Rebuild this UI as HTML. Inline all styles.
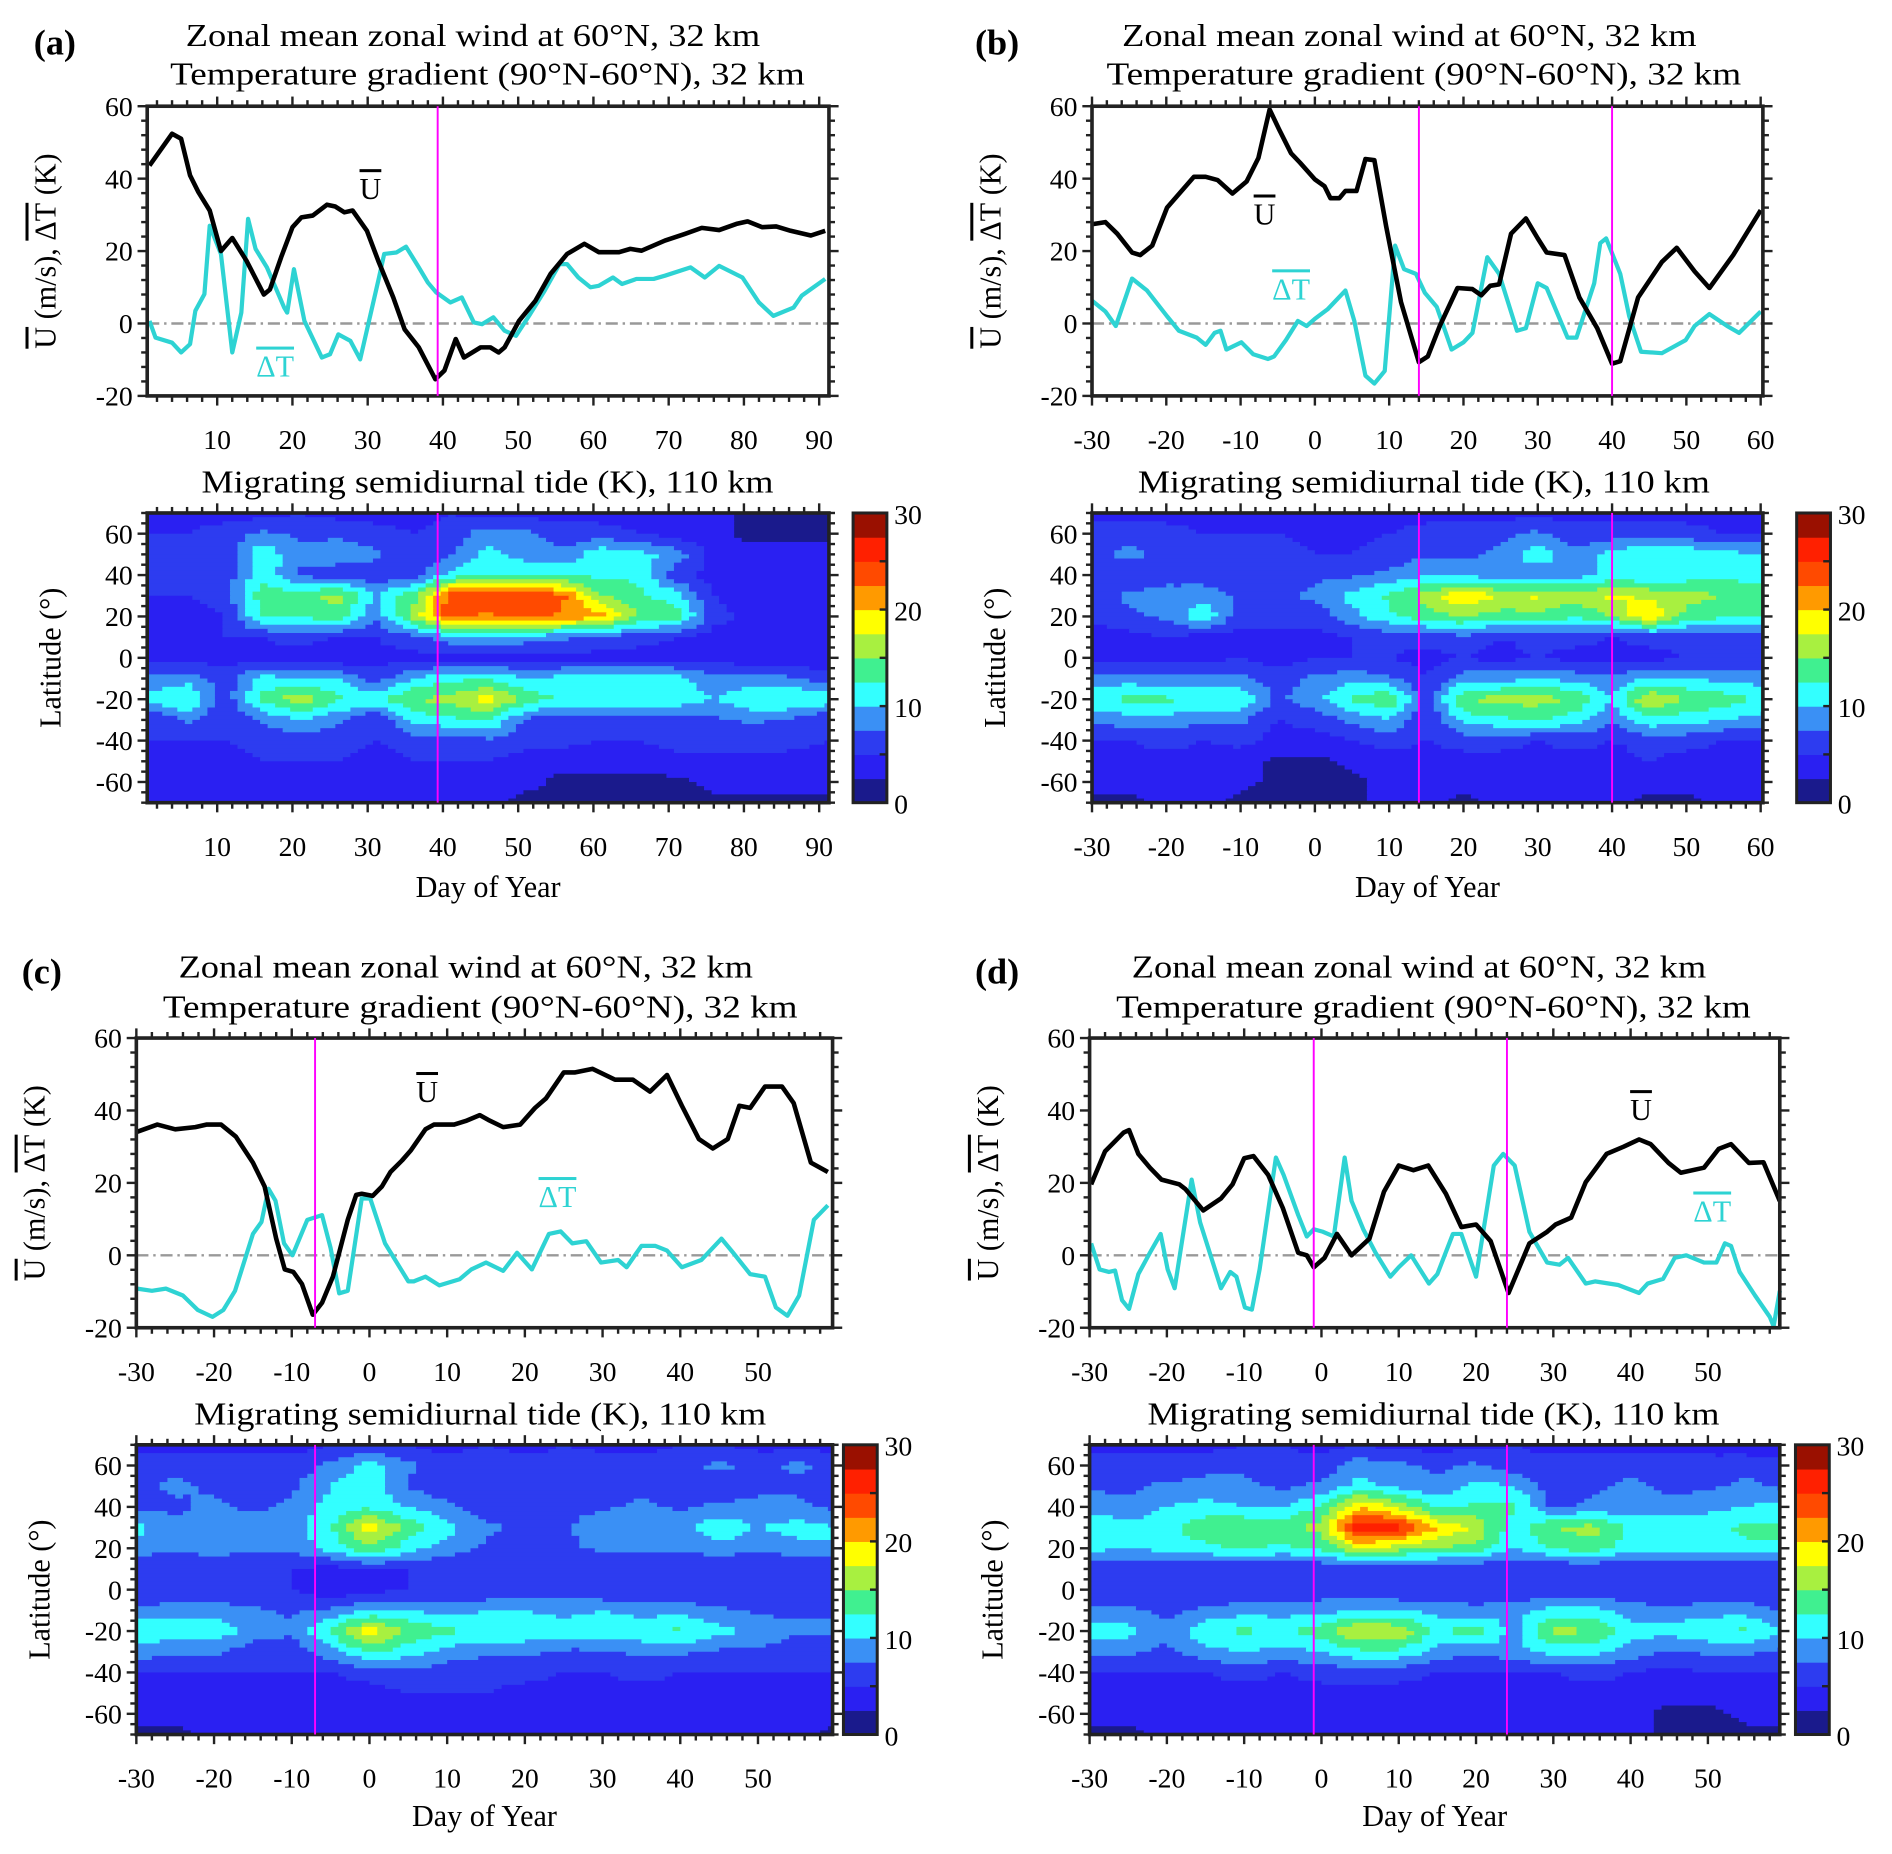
<!DOCTYPE html>
<html><head><meta charset="utf-8">
<style>
html,body{margin:0;padding:0;background:#fff;}
svg{display:block;font-family:"Liberation Serif",serif;}
.ol{text-decoration:overline;}
</style></head>
<body>
<svg id="fig" xmlns="http://www.w3.org/2000/svg" width="1892" height="1854" viewBox="0 0 1568 1536" preserveAspectRatio="none">
<rect x="0" y="0" width="1568" height="1536" fill="#fff"/>
</svg>
<script>
// ---------- Line series data ----------
const aUDays=[1,4,5.2,6.4,7.5,9,10.5,12,13.9,16.2,17,18.5,20,21.2,22.7,24.6,25.7,26.9,28,29.9,31.4,33.4,34.9,36.8,39,40.2,41.7,42.8,45,46.3,47.4,48.2,50.1,52.3,54.3,56.5,58.8,60.7,63.4,64.9,66.4,69.5,72.1,74.4,76.7,79,80.5,82.4,84.3,86.2,88.9,90.8];
const aU=[43.6,52.4,51,40.9,36.3,31.2,20,23.6,17.3,8,9.4,18.3,26.6,29.3,29.8,32.8,32.3,30.7,31.2,25.6,17.3,7.2,-1.6,-6.6,-15.4,-13,-4.3,-9.4,-6.6,-6.6,-8,-6.6,0.7,6.3,13.7,19.2,22,19.7,19.7,20.6,20.1,22.9,24.7,26.4,25.8,27.5,28.2,26.6,26.8,25.6,24.3,25.6];
const aTDays=[1,1.8,4,5.2,6.4,7.1,8.3,9,10.5,12,13.2,14.1,15.1,16.6,18.9,19.3,20.2,21.6,23.9,25,26.1,27.7,29,31.5,32.2,33.8,35.1,36.8,38,39.1,41,42.5,44.1,45.2,46.7,48.2,49.7,51.6,53.5,55.5,56.5,58,59.6,60.7,62.6,63.8,65.7,68,69.5,72.9,74.8,76.7,79.8,82,83.9,86.6,87.7,90.8];
const aT=[0.7,-3.9,-5.3,-8,-5.7,3.5,8.1,27,19.2,-8,3,28.9,20.6,15.5,4.4,3,15,0.7,-9.4,-8.5,-3,-4.8,-9.9,12.7,19.2,19.6,21.2,15.5,11.3,8.6,5.8,7.2,0.3,-0.2,1.7,-2,-3.4,2.6,9,16.4,16.4,12.7,10,10.4,12.7,10.9,12.3,12.3,13.2,15.5,12.7,15.9,12.7,5.8,2.1,4.4,7.7,12.3];

const bUDays=[-30,-28.2,-26.6,-24.6,-23.5,-21.9,-19.9,-16.3,-14.7,-13.1,-11.1,-9.2,-7.6,-6.1,-4.8,-3.2,-2,0,1.3,2.1,3.3,4.1,5.6,6.8,8,9.6,11.6,14,15.2,16.8,19.2,21.2,22.4,23.6,24.8,26.4,28.4,30,31.2,33.6,35.6,38,40,41.1,43.5,46.7,48.7,51.1,53.1,56.3,60];
const bU=[27.4,28,24.8,19.6,18.9,21.5,32,40.5,40.5,39.6,35.9,39.2,45.7,59.1,53.5,47,44.4,39.8,37.9,34.6,34.6,36.6,36.6,45.4,45.1,26.8,5.9,-10.7,-9.1,-0.7,9.8,9.5,7.8,10.4,10.8,24.8,29,23.5,19.6,18.9,7.2,-1.3,-11.1,-10.4,7.2,17,20.9,14.4,9.8,18.9,31.3];
const bTDays=[-30,-28.2,-26.8,-24.6,-22.6,-19.9,-18.3,-15.9,-14.7,-13.5,-12.7,-11.9,-9.9,-8.3,-6.3,-5.5,-3.9,-2.3,-1.1,0,1.7,4.1,5.3,6.8,8,9.4,10.8,12,13.6,14.8,16.4,18.4,20,21.2,23.2,24.8,27.2,28.4,30,31.2,34,35.2,37.6,38.4,39.2,41.1,42.3,43.9,46.7,49.9,51.1,53.1,55.5,57.1,60];
const bT=[6.3,3.3,-0.7,12.4,9.1,2,-2,-3.9,-5.9,-2.6,-2,-7.2,-5.2,-8.5,-9.8,-9.1,-4.6,0.7,-0.7,1.3,3.9,9.1,0.7,-14.4,-16.6,-13.1,21.5,15,13.7,8.5,4.6,-7.2,-5.2,-2.6,18.3,13.7,-2,-1.3,11.1,9.8,-3.9,-3.9,11.1,22.2,23.5,13.7,2,-7.8,-8.2,-4.6,-0.7,2.6,-0.7,-2.6,3.3];

const cUDays=[-29.9,-27.3,-25,-22.4,-21,-19.1,-17.2,-15,-13.5,-12,-10.9,-9.8,-8.7,-7.3,-6.1,-4.7,-2.8,-1.7,-1,0.4,1.6,2.7,4.2,5.3,7.2,8.3,10.9,12.4,14.2,15.3,17.2,19.4,21.3,22.7,25,26.4,28.7,31.6,33.9,36.1,38.3,40.2,42.4,44.2,46.1,47.6,49,50.9,53.1,54.6,56.8,59];
const cU=[34.1,36.1,34.8,35.4,36.1,36.1,32.8,25.6,19,4.6,-3.9,-4.6,-7.9,-16.4,-13.1,-5.9,9.8,16.7,17,16.4,19,23,26.2,28.9,34.8,36.1,36.1,37.1,38.7,37.4,35.4,36.1,40.7,43.3,50.5,50.5,51.5,48.5,48.5,45.2,49.8,41.3,32.1,29.5,32.1,41.3,40.7,46.6,46.6,42,25.6,23];
const cTDays=[-29.9,-28,-26.2,-24,-22.1,-20.2,-18.8,-17.3,-15,-13.9,-13,-12.1,-11,-9.9,-8,-6.1,-5,-3.9,-2.8,-1,0.1,2,5,5.7,7.2,9,11.6,13.1,15,17.2,19,20.9,23.1,24.6,26.1,27.9,29.8,32,33.1,35,36.8,38.3,40.2,42.7,45.3,46.8,49,50.9,52.3,53.8,55.3,57.2,59];
const cT=[-9.2,-9.8,-9.2,-11.1,-15.1,-17,-15.1,-9.8,5.9,9.2,18.4,15.1,3.3,0,9.8,11.1,2,-10.5,-9.8,15.7,15.7,3.3,-7.2,-7.2,-5.9,-8.3,-6.6,-3.9,-2,-4.3,0.7,-3.9,5.9,6.6,3.3,3.9,-2,-1.3,-3.3,2.6,2.6,1.3,-3.3,-1.3,4.6,0.7,-5.2,-5.9,-14.4,-16.7,-11.1,9.8,13.8];

const dUDays=[-29.8,-28,-25.6,-24.9,-23.7,-22.2,-20.7,-18.4,-17.6,-15.3,-13,-11.5,-10,-8.8,-6.9,-5,-3,-1.9,-1,0.4,2,3.9,6.2,8.1,10,11.9,13.8,16.1,18.1,20,21.9,24.2,26.9,29.2,30.3,32.3,34.2,36.9,39.1,41.1,42.6,44.9,46.5,49.5,51.4,53,55.3,57.2,59.3];
const dU=[19.6,28.7,33.9,34.6,28,24.2,20.9,19.6,18.3,12.4,15.7,19.6,26.8,27.4,22.2,13.1,0.7,0,-3.3,-0.7,5.9,0,4.6,17.6,24.8,23.5,24.8,17,7.8,8.5,3.9,-10.4,3.3,6.5,8.5,10.4,20.2,28,30,32,30.7,25.5,22.8,24.2,29.4,30.7,25.5,25.7,15];
const dTDays=[-29.8,-28.7,-27.5,-26.7,-25.8,-24.9,-23.7,-22.2,-20.8,-19.9,-19,-16.8,-15.7,-13,-11.8,-11,-9.9,-9,-8,-5.9,-4.9,-3,-1.9,-1,0.2,1.6,3,3.9,5.4,7,8.9,10,11.6,13.9,15,17,18.1,20,22.3,23.5,25,26.9,29.2,30.8,31.9,34.2,35.4,38.4,41.1,42.2,44.2,45.7,47.2,49.5,51.1,52.2,53,54.1,56.1,58,58.5,59.3];
const dT=[3.3,-3.9,-4.6,-4.2,-12.4,-14.8,-5.2,0.7,5.9,-3.9,-9.1,20.9,9.1,-9.1,-4.6,-5.9,-14.4,-15,-3.9,27,22.2,11.1,5.2,7.2,6.5,5.2,27,15,7.2,0.7,-5.9,-3.3,0,-7.8,-5.2,5.9,5.9,-5.9,24.8,28,24.8,6.5,-2,-2.6,-0.7,-7.8,-7.2,-8.2,-10.4,-7.8,-6.5,-0.7,0,-2,-2,3.3,2.6,-4.6,-11.1,-17,-19.6,-9.8];

// ---------- Heatmap data (rows: latitude 70 .. -70 step 10) ----------
const latRows=[70,60,50,40,30,20,10,0,-10,-20,-30,-40,-50,-60,-70];
const aHeatDays=[1,6,11,16,21,26,31,36,41,46,51,56,61,66,71,76,81,86,91];
const bcdHeatDays=[-30,-25,-20,-15,-10,-5,0,5,10,15,20,25,30,35,40,45,50,55,60];
const heatA=[
[5,4,4,4,5,4,4,4,5,4,4,4,4,4,4,3,2,2,2],
[5,5,6,8,7,7,6,5,6,9,8,6,6,5,4,3,2,2,2],
[5,5,6,12,8,9,8,6,7,11,9,8,12,11,9,4,3,3,3],
[5,5,6,12,7,6,6,6,11,12,12,12,12,12,6,4,4,4,4],
[5,5,6,14,14,16,10,14,24,24,25,23,15,13,11,5,4,4,4],
[4,4,5,13,13,14,8,16,24,22,24,22,21,15,14,6,4,4,4],
[5,4,5,5,6,5,5,7,9,9,9,8,7,6,5,4,4,4,4],
[4,4,4,4,4,3,4,4,4,4,4,4,4,4,4,4,3,3,3],
[8,9,6,11,10,10,6,10,12,12,10,11,12,12,11,8,9,8,6],
[11,13,6,13,17,13,12,15,16,19,14,12,12,12,12,10,12,13,12],
[5,8,5,8,10,8,5,11,12,13,7,6,6,6,6,7,8,7,5],
[5,5,5,6,6,6,5,6,6,7,6,6,5,5,6,6,6,6,5],
[4,5,4,5,5,5,4,5,5,5,4,3,3,3,4,4,4,4,4],
[4,4,4,4,4,4,4,4,4,4,3,2,2,2,2,3,3,3,3],
[3,3,3,3,3,3,3,3,3,3,2,2,2,2,2,2,2,2,2]];
const heatB=[
[4,4,4,4,4,4,5,4,4,4,4,4,4,4,4,4,4,4,4],
[6,7,6,5,5,5,4,4,5,6,6,7,8,6,6,7,6,5,5],
[7,8,7,6,5,6,5,5,6,7,7,8,12,8,11,12,12,11,10],
[6,6,7,6,6,6,7,7,8,10,9,9,8,9,11,10,11,12,11],
[6,8,8,9,7,7,8,11,13,16,20,17,18,16,18,17,16,15,14],
[6,7,8,12,6,6,6,9,12,14,15,14,14,13,15,20,14,13,13],
[3,4,5,4,4,4,4,5,6,6,7,5,6,6,5,6,6,6,6],
[4,4,4,4,5,4,5,5,5,4,5,4,5,4,4,4,5,5,5],
[8,9,8,8,8,6,8,9,8,5,9,9,10,9,8,10,10,9,9],
[12,13,13,12,12,7,9,13,15,6,15,16,16,15,10,18,15,14,12],
[8,9,9,8,8,5,6,8,10,5,11,12,13,11,8,12,11,10,9],
[5,5,6,5,6,4,4,5,6,5,6,6,5,6,5,6,6,5,5],
[4,4,4,4,3,2,2,3,4,4,4,4,4,4,4,5,4,4,4],
[3,3,3,3,3,2,2,2,3,3,3,3,3,3,3,3,3,3,3],
[2,2,3,3,2,2,2,2,3,3,2,3,3,3,3,2,2,3,3]];
const heatC=[
[4,4,4,4,4,5,5,5,4,5,4,5,4,4,5,5,4,4,4],
[6,7,7,6,6,8,11,8,6,7,6,6,7,6,7,8,7,8,7],
[7,8,7,6,7,10,12,7,6,6,6,6,6,7,6,6,7,7,6],
[7,7,8,7,8,11,12,10,8,6,7,7,7,8,7,8,8,8,7],
[11,8,8,9,9,12,19,14,11,8,7,7,9,10,9,12,10,11,10],
[9,8,9,8,8,11,15,11,9,7,7,7,8,8,8,9,8,9,10],
[5,5,5,5,5,4,5,5,5,5,5,5,5,5,5,5,5,5,5],
[5,5,5,5,5,3,4,5,5,5,5,6,5,5,5,5,5,5,5],
[8,9,9,8,7,8,10,10,9,10,10,9,10,9,9,8,7,7,7],
[12,11,12,9,8,13,19,15,13,12,12,12,12,12,13,11,9,8,8],
[9,8,8,6,6,9,13,11,9,8,8,7,7,8,8,7,7,6,6],
[5,5,5,5,5,5,6,7,6,6,6,5,5,6,5,5,5,5,5],
[4,4,4,4,4,4,4,5,5,5,4,4,4,4,4,4,4,4,4],
[3,3,3,3,4,4,4,4,4,4,3,3,3,3,4,4,3,3,3],
[2,2,3,3,3,3,3,3,3,3,3,3,3,3,3,3,3,3,2]];
const heatD=[
[4,4,4,4,5,5,4,5,4,4,4,5,4,4,4,4,4,3,3],
[6,6,6,7,7,6,6,9,8,7,8,6,6,6,7,6,6,7,6],
[7,7,8,8,8,7,8,11,9,8,11,10,6,7,8,7,7,8,7],
[9,8,10,11,10,10,13,20,17,12,13,13,7,8,8,8,9,10,11],
[12,11,12,14,15,14,16,27,26,20,17,11,15,16,12,12,12,13,13],
[11,10,11,12,13,12,13,18,16,15,14,10,13,14,11,12,11,12,12],
[5,5,5,5,5,5,5,5,5,5,5,5,5,5,5,5,5,5,5],
[5,5,5,5,5,5,6,6,5,5,6,5,5,6,5,5,5,5,5],
[8,8,7,8,9,9,9,10,10,9,8,9,11,11,9,8,9,9,7],
[12,11,8,12,13,12,14,18,17,12,14,9,16,15,11,11,12,13,10],
[8,8,7,9,10,9,10,12,12,9,8,9,11,11,9,7,8,8,7],
[5,5,5,5,6,5,6,6,6,5,5,5,5,6,5,4,5,5,5],
[4,4,4,4,4,4,4,4,4,4,4,4,4,4,4,3,3,3,3],
[3,3,3,4,4,4,4,4,4,4,4,4,3,3,3,2,2,3,3],
[2,2,3,3,3,3,3,3,3,3,3,3,3,3,3,2,2,2,2]];

const levelColors=["#1a1a8c","#2a20f2","#2d3cf0","#3a90f5","#33ffff","#40f090","#a8f040","#ffff00","#ff9a00","#ff4a00","#ff2000","#9a1000"];
const xTicksA=[10,20,30,40,50,60,70,80,90];
const xTicksB=[-30,-20,-10,0,10,20,30,40,50,60];
const xTicksCD=[-30,-20,-10,0,10,20,30,40,50];
const yTicksLine=[-20,0,20,40,60];
const yTicksLat=[-60,-40,-20,0,20,40,60];
const cbTicks=[0,10,20,30];

const NS="http://www.w3.org/2000/svg";
const svg=document.getElementById('fig');
function mk(tag,attrs,parent){const e=document.createElementNS(NS,tag);for(const k in attrs)e.setAttribute(k,attrs[k]);(parent||svg).appendChild(e);return e;}

const panels=[
 {id:'a',label:'(a)',lx:28,ly:45,x0:122,x1:687,d0:0.7,d1:91.3,ly0:88,ly1:328,hy0:425,hy1:665,cb:707,tcx:404,t1y:38,t2y:70,hty:408,xt:xTicksA,minorStart:2,
  uD:aUDays,u:aU,tD:aTDays,t:aT,heat:heatA,hd:aHeatDays,mag:[39.3],uLab:[307,165],tLab:[228,312],dayLabel:743},
 {id:'b',label:'(b)',lx:808,ly:45,x0:905,x1:1461,d0:-30,d1:60.3,ly0:88,ly1:328,hy0:425,hy1:665,cb:1489,tcx:1180,t1y:38,t2y:70,hty:408,xt:xTicksB,minorStart:-30,
  uD:bUDays,u:bU,tD:bTDays,t:bT,heat:heatB,hd:bcdHeatDays,mag:[14,40],uLab:[1048,186],tLab:[1070,248],dayLabel:743},
 {id:'c',label:'(c)',lx:18,ly:815,x0:113,x1:690,d0:-30,d1:59.6,ly0:860,ly1:1100,hy0:1197,hy1:1437,cb:699,tcx:398,t1y:810,t2y:843,hty:1180,xt:xTicksCD,minorStart:-30,
  uD:cUDays,u:cU,tD:cTDays,t:cT,heat:heatC,hd:bcdHeatDays,mag:[-7],uLab:[354,913],tLab:[462,1000],dayLabel:1513},
 {id:'d',label:'(d)',lx:808,ly:815,x0:903,x1:1475,d0:-30,d1:59.3,ly0:860,ly1:1100,hy0:1197,hy1:1437,cb:1488,tcx:1188,t1y:810,t2y:843,hty:1180,xt:xTicksCD,minorStart:-30,
  uD:dUDays,u:dU,tD:dTDays,t:dT,heat:heatD,hd:bcdHeatDays,mag:[-1,24],uLab:[1360,928],tLab:[1419,1012],dayLabel:1513}
];

function colorFor(v){let i=Math.floor(v/2.5);if(i<0)i=0;if(i>11)i=11;return levelColors[i];}
function interp(heat,hd,day,lat){
  let ci=0;while(ci<hd.length-2&&day>hd[ci+1])ci++;
  let fx=(day-hd[ci])/(hd[ci+1]-hd[ci]);fx=Math.max(0,Math.min(1,fx));
  let ri=0;while(ri<latRows.length-2&&lat<latRows[ri+1])ri++;
  let fy=(latRows[ri]-lat)/(latRows[ri]-latRows[ri+1]);fy=Math.max(0,Math.min(1,fy));
  const v00=heat[ri][ci],v01=heat[ri][ci+1],v10=heat[ri+1][ci],v11=heat[ri+1][ci+1];
  return (v00*(1-fx)+v01*fx)*(1-fy)+(v10*(1-fx)+v11*fx)*fy;
}

panels.forEach(p=>{
  const g=mk('g',{});
  
  
  const xs=d=>p.x0+(d-p.d0)/(p.d1-p.d0)*(p.x1-p.x0);
  const ys=v=>p.ly1-(v+20)/80*(p.ly1-p.ly0);
  const ysl=l=>p.hy1-(l+70)/140*(p.hy1-p.hy0);

  let t=mk('text',{x:p.lx,y:p.ly,'font-size':30,'font-weight':'bold'},g);t.textContent=p.label;
  
  t=mk('text',{x:p.tcx-12,y:p.t1y,'font-size':26,'text-anchor':'middle',textLength:476,lengthAdjust:'spacingAndGlyphs'},g);t.textContent='Zonal mean zonal wind at 60°N, 32 km';
  
  t=mk('text',{x:p.tcx,y:p.t2y,'font-size':26,'text-anchor':'middle',textLength:526,lengthAdjust:'spacingAndGlyphs'},g);t.textContent='Temperature gradient (90°N-60°N), 32 km';
  
  t=mk('text',{x:p.tcx,y:p.hty,'font-size':26,'text-anchor':'middle',textLength:474,lengthAdjust:'spacingAndGlyphs'},g);t.textContent='Migrating semidiurnal tide (K), 110 km';
  

  const hg=mk('g',{},g);
  
  const dStep=1,lStep=2;
  for(let lat=70;lat>-70;lat-=lStep){
    const yTop=ysl(lat),yBot=ysl(lat-lStep);
    let runStart=null,runCol=null;
    for(let day=p.d0;day<p.d1+0.001;day+=dStep){
      const dEnd=Math.min(day+dStep,p.d1);
      const v=interp(p.heat,p.hd,day+dStep/2,lat-lStep/2);
      const c=colorFor(v);
      if(c!==runCol){
        if(runCol!==null){const r=mk('rect',{x:xs(runStart),y:yTop,width:xs(day)-xs(runStart)+0.6,height:yBot-yTop+0.6,fill:runCol},hg);
          }
        runStart=day;runCol=c;
      }
      if(dEnd>=p.d1){const r=mk('rect',{x:xs(runStart),y:yTop,width:xs(p.d1)-xs(runStart),height:yBot-yTop+0.6,fill:runCol},hg);
        break;}
    }
  }
  let fr=mk('rect',{x:p.x0,y:p.hy0,width:p.x1-p.x0,height:p.hy1-p.hy0,fill:'none',stroke:'#222','stroke-width':3},g);
  

  for(let d=p.minorStart;d<=p.d1;d+=2){
    const major=(Math.round(d)%10===0);const L=major?8:5;
    let tk=mk('line',{x1:xs(d),x2:xs(d),y1:p.hy0-L,y2:p.hy0,stroke:'#222','stroke-width':2},g);
    
    tk=mk('line',{x1:xs(d),x2:xs(d),y1:p.hy1,y2:p.hy1+L,stroke:'#222','stroke-width':2},g);
    
  }
  for(let l=-70;l<=70;l+=5){
    const major=(l%20===0);const L=major?8:5;
    let tk=mk('line',{x1:p.x0-L,x2:p.x0,y1:ysl(l),y2:ysl(l),stroke:'#222','stroke-width':2},g);
    
    tk=mk('line',{x1:p.x1,x2:p.x1+L,y1:ysl(l),y2:ysl(l),stroke:'#222','stroke-width':2},g);
    
  }
  yTicksLat.forEach(l=>{
    const tx=mk('text',{x:p.x0-12,y:ysl(l)+8,'font-size':23,'text-anchor':'end'},g);tx.textContent=l;
    
  });
  p.xt.forEach(d=>{
    let tx=mk('text',{x:xs(d),y:p.hy1+44,'font-size':23,'text-anchor':'middle'},g);tx.textContent=d;
    
    tx=mk('text',{x:xs(d),y:p.ly1+44,'font-size':23,'text-anchor':'middle'},g);tx.textContent=d;
    
  });
  let xl=mk('text',{x:(p.x0+p.x1)/2,y:p.dayLabel,'font-size':25,'text-anchor':'middle'},g);xl.textContent='Day of Year';
  
  let yl=mk('text',{x:0,y:0,'font-size':25,'text-anchor':'middle',transform:`translate(${p.x0-72},${(p.hy0+p.hy1)/2}) rotate(-90)`},g);yl.textContent='Latitude (°)';
  

  const cbH=p.hy1-p.hy0;
  levelColors.forEach((c,i)=>{
    const r=mk('rect',{x:p.cb,y:p.hy1-(i+1)*cbH/12,width:28,height:cbH/12+0.5,fill:c},g);
    
  });
  let cbf=mk('rect',{x:p.cb,y:p.hy0,width:28,height:cbH,fill:'none',stroke:'#222','stroke-width':2.5},g);
  
  for(let v=5;v<30;v+=5){let tk=mk('line',{x1:p.cb+22,x2:p.cb+28,y1:p.hy1-v/30*cbH,y2:p.hy1-v/30*cbH,stroke:'#222','stroke-width':2},g);
    }
  cbTicks.forEach(v=>{
    const tx=mk('text',{x:p.cb+34,y:p.hy1-v/30*cbH+9,'font-size':23},g);tx.textContent=v;
    
  });

  let zl=mk('line',{x1:p.x0,x2:p.x1,y1:ys(0),y2:ys(0),stroke:'#999','stroke-width':2,'stroke-dasharray':'10,4,2,4'},g);
  
  const pathOf=(D,V)=>D.map((d,i)=>(i?'L':'M')+xs(d).toFixed(1)+','+ys(V[i]).toFixed(1)).join(' ');
  let pt=mk('path',{d:pathOf(p.tD,p.t),fill:'none',stroke:'#2ed3d3','stroke-width':3.5,'stroke-linejoin':'round'},g);
  
  let pu=mk('path',{d:pathOf(p.uD,p.u),fill:'none',stroke:'#000','stroke-width':3.8,'stroke-linejoin':'round'},g);
  
  let lf=mk('rect',{x:p.x0,y:p.ly0,width:p.x1-p.x0,height:p.ly1-p.ly0,fill:'none',stroke:'#222','stroke-width':3},g);
  
  for(let d=p.minorStart;d<=p.d1;d+=2){
    const major=(Math.round(d)%10===0);const L=major?8:5;
    let tk=mk('line',{x1:xs(d),x2:xs(d),y1:p.ly0-L,y2:p.ly0,stroke:'#222','stroke-width':2},g);
    
    tk=mk('line',{x1:xs(d),x2:xs(d),y1:p.ly1,y2:p.ly1+L,stroke:'#222','stroke-width':2},g);
    
  }
  for(let v=-20;v<=60;v+=4){
    const major=(v%20===0);const L=major?8:5;
    let tk=mk('line',{x1:p.x0-L,x2:p.x0,y1:ys(v),y2:ys(v),stroke:'#222','stroke-width':2},g);
    
    tk=mk('line',{x1:p.x1,x2:p.x1+L,y1:ys(v),y2:ys(v),stroke:'#222','stroke-width':2},g);
    
  }
  yTicksLine.forEach(v=>{
    const tx=mk('text',{x:p.x0-12,y:ys(v)+8,'font-size':23,'text-anchor':'end'},g);tx.textContent=v;
    
  });
  p.mag.forEach(d=>{
    let m=mk('line',{x1:xs(d),x2:xs(d),y1:p.ly0,y2:p.ly1,stroke:'#ff00ff','stroke-width':1.6},g);
    
    m=mk('line',{x1:xs(d),x2:xs(d),y1:p.hy0,y2:p.hy1,stroke:'#ff00ff','stroke-width':1.6},g);
    
  });
  const yt=mk('text',{x:0,y:0,'font-size':25,'text-anchor':'middle',transform:`translate(${p.x0-76},${(p.ly0+p.ly1)/2}) rotate(-90)`},g);
  yt.innerHTML='<tspan class="ol">U</tspan> (m/s), <tspan class="ol">ΔT</tspan> (K)';
  
  const ul=mk('text',{x:p.uLab[0],y:p.uLab[1],'font-size':25,'text-anchor':'middle',class:'ol'},g);ul.textContent='U';
  
  const tl=mk('text',{x:p.tLab[0],y:p.tLab[1],'font-size':25,'text-anchor':'middle',fill:'#2ed3d3',class:'ol'},g);tl.textContent='ΔT';
  
});
</script>
</body></html>
